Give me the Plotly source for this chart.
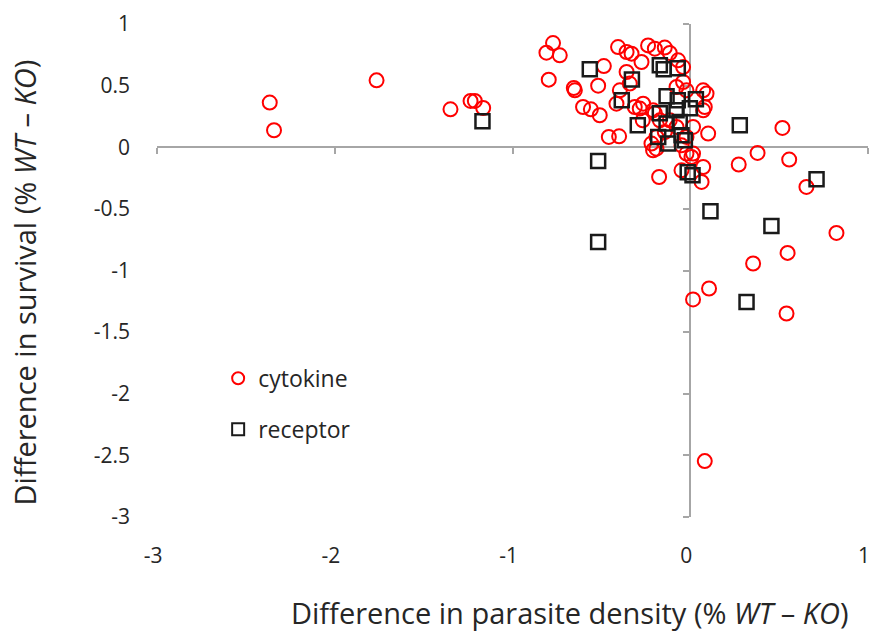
import plotly.graph_objects as go

# Data
cytokine_x = [-2.366, -2.342, -1.765, -1.349, -1.236, -1.212, -1.165, -0.772, -0.809, -0.734,
              -0.796, -0.486, -0.655, -0.649, -0.518, -0.603, -0.559, -0.509, -0.458, -0.400,
              -0.406, -0.358, -0.330, -0.274, -0.237, -0.199, -0.143, -0.115, -0.068, -0.040,
              -0.358, -0.340, -0.396, -0.284, -0.199, -0.267, -0.190, -0.190, -0.077, -0.040,
              -0.021, 0.073, 0.092, 0.073, 0.016, 0.101, -0.021, -0.049, -0.021, 0.016,
              0.073, -0.049, 0.064, -0.175, -0.115, -0.077, 0.519, 0.379, 0.557, 0.273,
              0.654, 0.823, 0.548, 0.354, 0.106, 0.016, 0.542, 0.082,
              -0.312, -0.265, -0.415, 0.082, -0.209, -0.218, 0.007, -0.143, -0.209, -0.171]
cytokine_y = [0.363, 0.138, 0.543, 0.308, 0.376, 0.376, 0.319, 0.846, 0.768, 0.746,
              0.549, 0.659, 0.481, 0.462, 0.500, 0.327, 0.308, 0.260, 0.084, 0.089,
              0.813, 0.773, 0.760, 0.692, 0.827, 0.800, 0.809, 0.765, 0.706, 0.651,
              0.611, 0.517, 0.462, 0.314, 0.276, 0.219, 0.084, -0.011, 0.489, 0.530,
              0.462, 0.462, 0.436, 0.300, 0.165, 0.111, 0.084, 0.016, -0.051, -0.051,
              -0.160, -0.187, -0.281, -0.241, 0.219, 0.165, 0.157, -0.046, -0.100, -0.140,
              -0.322, -0.695, -0.857, -0.943, -1.146, -1.235, -1.349, -2.547,
              0.327, 0.354, 0.354, 0.327, -0.024, 0.030, -0.079, 0.124, 0.300, 0.219]

receptor_x = [-1.169, -0.565, -0.328, -0.171, -0.149, -0.070, -0.385, -0.133, -0.070, 0.032,
              -0.295, -0.171, -0.077, -0.002, -0.180, -0.124, -0.049, -0.133, -0.059, -0.518,
              -0.014, 0.013, 0.114, 0.279, 0.711, 0.457, 0.317, -0.518, -0.030]
receptor_y = [0.211, 0.633, 0.551, 0.665, 0.633, 0.641, 0.381, 0.414, 0.381, 0.389,
              0.178, 0.276, 0.300, 0.316, 0.084, 0.030, 0.097, 0.192, 0.205, -0.111,
              -0.203, -0.227, -0.519, 0.178, -0.260, -0.638, -1.255, -0.768, 0.057]

x_ticks = [-3, -2, -1, 0, 1]
y_ticks = [1, 0.5, 0, -0.5, -1, -1.5, -2, -2.5, -3]
y_tick_text = ["1", "0.5", "0", "-0.5", "-1", "-1.5", "-2", "-2.5", "-3"]

x_title = "Difference in parasite density (% <i>WT</i> – <i>KO</i>)"
y_title = "Difference in survival (% <i>WT</i> – <i>KO</i>)"

FONT = "Open Sans"
TXT = "#262626"
AXIS = "#a6a6a6"
RANGE = [-3.0005, 1.0005]

fig = go.Figure()
fig.add_trace(go.Scatter(
    x=cytokine_x, y=cytokine_y, mode="markers", name="cytokine", legendgroup="c",
    marker=dict(symbol="circle-open", size=14, color="#ff0000", line=dict(width=2, color="#ff0000")),
))
fig.add_trace(go.Scatter(
    x=receptor_x, y=receptor_y, mode="markers", name="receptor", legendgroup="r",
    marker=dict(symbol="square-open", size=14, color="#1a1a1a", line=dict(width=2.5, color="#1a1a1a")),
))
# empty helper traces so the crossing axes (drawn through zero) are rendered
fig.add_trace(go.Scatter(x=[None], y=[None], xaxis="x2", yaxis="y", showlegend=False,
                         hoverinfo="skip", mode="markers"))
fig.add_trace(go.Scatter(x=[None], y=[None], xaxis="x", yaxis="y2", showlegend=False,
                         hoverinfo="skip", mode="markers"))

fig.update_layout(
    width=872, height=639,
    margin=dict(l=157, r=4, t=24, b=122),
    paper_bgcolor="white", plot_bgcolor="white",
    font=dict(family=FONT, color=TXT, size=21),
    hovermode=False,
    showlegend=True,
    legend=dict(x=0.086, y=0.325, xanchor="left", yanchor="top",
                bgcolor="rgba(0,0,0,0)", font=dict(family=FONT, size=23, color=TXT),
                traceorder="grouped", tracegroupgap=18, itemsizing="constant", itemwidth=30),
    xaxis=dict(range=RANGE, tickvals=x_ticks, ticktext=[str(v) for v in x_ticks],
               showgrid=False, zeroline=False, showline=False, ticks="", automargin=False,
               ticklabelstandoff=24, ticklabelshift=-4, ticklabeloverflow="allow",
               tickfont=dict(size=21, color=TXT)),
    yaxis=dict(range=RANGE, tickvals=y_ticks, ticktext=y_tick_text,
               showgrid=False, zeroline=False, showline=False, ticks="", automargin=False,
               ticklabelstandoff=26, ticklabeloverflow="allow", tickfont=dict(size=21, color=TXT)),
    xaxis2=dict(range=RANGE, overlaying="x", anchor="free", position=0.75, side="bottom",
                tickvals=x_ticks, showticklabels=False, showgrid=False, zeroline=False,
                showline=True, linecolor=AXIS, linewidth=2, ticks="outside", ticklen=6,
                tickcolor=AXIS, tickwidth=2, layer="below traces"),
    yaxis2=dict(range=RANGE, overlaying="y", anchor="free", position=0.75, side="left",
                tickvals=y_ticks, showticklabels=False, showgrid=False, zeroline=False,
                showline=True, linecolor=AXIS, linewidth=2, ticks="outside", ticklen=6,
                tickcolor=AXIS, tickwidth=2, layer="below traces"),
    annotations=[
        dict(text=x_title, xref="paper", yref="paper", x=0.5795, y=-0.1927,
             xanchor="center", yanchor="middle", showarrow=False,
             font=dict(family=FONT, size=29, color=TXT)),
        dict(text=y_title, xref="paper", yref="paper", x=-0.185, y=0.4767, textangle=-90,
             xanchor="center", yanchor="middle", showarrow=False,
             font=dict(family=FONT, size=29, color=TXT)),
    ],
)

fig.write_html("out.html", config={"displayModeBar": False},
               post_script="document.body.style.margin='0';")
